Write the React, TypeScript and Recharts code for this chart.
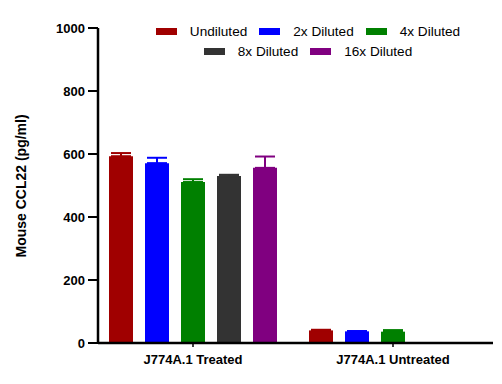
import React from 'react';
import { BarChart, Bar, XAxis, YAxis, ErrorBar } from 'recharts';

const categories = ['J774A.1 Treated', 'J774A.1 Untreated'];
const undiluted = [593, 40];
const undilutedErr = [10, 2];
const diluted2x = [571, 37];
const diluted2xErr = [17, 1];
const diluted4x = [511, 36];
const diluted4xErr = [9, 5];
const diluted8x = [530, null];
const diluted8xErr = [4, null];
const diluted16x = [556, null];
const diluted16xErr = [36, null];
const yTicks = [0, 200, 400, 600, 800, 1000];

const series = [
  { key: 'u', name: 'Undiluted', color: '#A00000', values: undiluted, errs: undilutedErr },
  { key: 'd2', name: '2x Diluted', color: '#0000FF', values: diluted2x, errs: diluted2xErr },
  { key: 'd4', name: '4x Diluted', color: '#008000', values: diluted4x, errs: diluted4xErr },
  { key: 'd8', name: '8x Diluted', color: '#333333', values: diluted8x, errs: diluted8xErr },
  { key: 'd16', name: '16x Diluted', color: '#800080', values: diluted16x, errs: diluted16xErr },
];

const data = categories.map((cat, i) => {
  const row: Record<string, any> = { cat };
  series.forEach((s) => {
    row[s.key] = s.values[i];
    row[s.key + 'Err'] = s.errs[i] == null ? null : [0, s.errs[i]];
  });
  return row;
});

const font = 'Arial, "Liberation Sans", sans-serif';

function LegendRow({ items }: { items: typeof series }) {
  return (
    <div style={{ display: 'flex', justifyContent: 'center', alignItems: 'center', height: 20 }}>
      {items.map((s) => (
        <div key={s.key} style={{ display: 'flex', alignItems: 'center', margin: '0 6px' }}>
          <span style={{ display: 'inline-block', width: 21, height: 7, background: s.color, marginRight: 13 }} />
          <span style={{ fontSize: 13.6, color: '#000' }}>{s.name}</span>
        </div>
      ))}
    </div>
  );
}

export default function App() {
  return (
    <div style={{ position: 'absolute', left: 0, top: 0, width: 502, height: 384, background: '#fff', fontFamily: font }}>
      <BarChart
        width={502}
        height={384}
        data={data}
        margin={{ top: 28, right: 9, bottom: 11, left: 38 }}
        barGap={12}
        barSize={24}
      >
        <XAxis
          dataKey="cat"
          height={30}
          padding={{ left: -5, right: 0 }}
          axisLine={{ stroke: '#000', strokeWidth: 2.5 }}
          tickLine={{ stroke: '#000', strokeWidth: 1.5 }}
          tickSize={4}
          tick={{ fill: '#000', fontSize: 13, fontWeight: 'bold', fontFamily: font, dy: 6 }}
        />
        <YAxis
          width={60}
          domain={[0, 1000]}
          ticks={yTicks}
          interval={0}
          axisLine={{ stroke: '#000', strokeWidth: 2.5 }}
          tickLine={{ stroke: '#000', strokeWidth: 2 }}
          tickSize={10}
          tickMargin={3}
          tick={{ fill: '#000', fontSize: 13, fontWeight: 'bold', fontFamily: font }}
          label={{
            value: 'Mouse CCL22 (pg/ml)',
            angle: -90,
            position: 'insideLeft',
            dx: -22,
            dy: 72,
            style: { fill: '#000', fontSize: 14, fontWeight: 'bold', fontFamily: font },
          }}
        />
        {series.map((s) => (
          <Bar key={s.key} dataKey={s.key} name={s.name} fill={s.color} isAnimationActive={false}>
            <ErrorBar dataKey={s.key + 'Err'} direction="y" width={10} stroke={s.color} strokeWidth={2} />
          </Bar>
        ))}
      </BarChart>
      <div style={{ position: 'absolute', left: 90, top: 341.75, width: 9, height: 2.5, background: '#000' }} />
      <div style={{ position: 'absolute', left: 58, top: 21, width: 500 }}>
        <LegendRow items={series.slice(0, 3)} />
        <LegendRow items={series.slice(3)} />
      </div>
    </div>
  );
}
